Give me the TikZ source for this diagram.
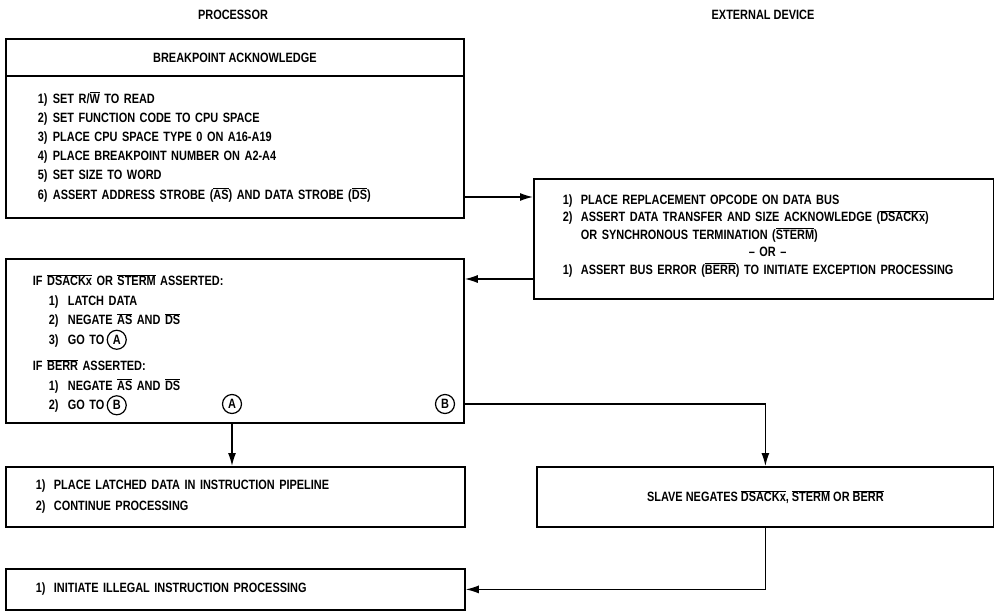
\documentclass[tikz,border=0pt]{standalone}
\usepackage{fontspec}
\setmainfont{Liberation Sans}[FakeStretch=0.81, UprightFont=* Bold]
\usetikzlibrary{arrows.meta, positioning, calc}

\newcommand{\ovl}[1]{$\overline{\mbox{#1}}$}
\newcommand{\num}[2][15pt]{\makebox[#1][l]{#2}}
\newcommand{\goto}[1]{\tikz[baseline=(g.base)]\node[circle, draw, line width=1.2pt, inner sep=0pt, minimum size=19pt] (g) {#1};}

\begin{document}
\begin{tikzpicture}[x=1pt, y=-1pt,
  font=\fontsize{13.5}{16}\selectfont,
  box/.style={draw, line width=1.8pt, anchor=north west, inner sep=0pt, align=left},
  circ/.style={circle, draw, line width=1.2pt, inner sep=0pt, minimum size=19pt},
  edge/.style={-{Latex[length=13pt, width=8pt]}, line width=1.3pt}
]
\useasboundingbox (0,0) rectangle (994,611);

\node (proc) at (233,15) {PROCESSOR};
\node (ext) at (763,15) {EXTERNAL DEVICE};

\node[box, align=center, minimum width=458pt, minimum height=37pt] (bkpt) at (5,38) {BREAKPOINT ACKNOWLEDGE};
\node[box, text width=394pt, inner xsep=32pt, minimum height=142pt, font=\fontsize{13.5}{19.2}\selectfont] (bksteps) at (5,75) {%
\num{1)}SET R/\ovl{W} TO READ\\
\num{2)}SET FUNCTION CODE TO CPU SPACE\\
\num{3)}PLACE CPU SPACE TYPE 0 ON A16-A19\\
\num{4)}PLACE BREAKPOINT NUMBER ON A2-A4\\
\num{5)}SET SIZE TO WORD\\
\num{6)}ASSERT ADDRESS STROBE (\ovl{AS}) AND DATA STROBE (\ovl{DS})};

\node[box, text width=402pt, inner xsep=29pt, minimum height=120pt, font=\fontsize{13.5}{17.5}\selectfont] (dev) at (533,178) {%
\num[18pt]{1)}PLACE REPLACEMENT OPCODE ON DATA BUS\\
\num[18pt]{2)}ASSERT DATA TRANSFER AND SIZE ACKNOWLEDGE (\ovl{DSACKx})\\
\hspace*{18pt}OR SYNCHRONOUS TERMINATION (\ovl{STERM})\\
\hspace*{186pt}-- OR --\\
\num[18pt]{1)}ASSERT BUS ERROR (\ovl{BERR}) TO INITIATE EXCEPTION PROCESSING\\[-8pt]\mbox{}};

\node[box, text width=404pt, inner xsep=27pt, minimum height=164pt, font=\fontsize{13.5}{19.5}\selectfont] (resp) at (5,258) {%
\mbox{}\\[0pt]
IF \ovl{DSACKx} OR \ovl{STERM} ASSERTED:\\
\hspace*{16pt}\num[19pt]{1)}LATCH DATA\\
\hspace*{16pt}\num[19pt]{2)}NEGATE \ovl{AS} AND \ovl{DS}\\
\hspace*{16pt}\num[19pt]{3)}GO TO\,\goto{A}\\[7pt]
IF \ovl{BERR} ASSERTED:\\
\hspace*{16pt}\num[19pt]{1)}NEGATE \ovl{AS} AND \ovl{DS}\\
\hspace*{16pt}\num[19pt]{2)}GO TO\,\goto{B}};
\node[circ] (ca) at (232,404) {A};
\node[circ] (cb) at (445,404) {B};

\node[box, text width=399pt, inner xsep=30pt, minimum height=60pt, font=\fontsize{13.5}{21}\selectfont] (latched) at (5,466) {%
\num[18pt]{1)}PLACE LATCHED DATA IN INSTRUCTION PIPELINE\\
\num[18pt]{2)}CONTINUE PROCESSING};
\node[box, align=center, minimum width=457pt, minimum height=60pt] (slave) at (536,466) {SLAVE NEGATES \ovl{DSACKx}, \ovl{STERM} OR \ovl{BERR}};
\node[box, text width=399pt, inner xsep=30pt, minimum height=41pt] (illegal) at (5,568) {%
\num[18pt]{1)}INITIATE ILLEGAL INSTRUCTION PROCESSING};

\draw[edge] (bksteps.east |- 0,197) -- (dev.west |- 0,197);
\draw[edge] (dev.west |- 0,279) -- (resp.east |- 0,279);
\draw[edge] (resp.south -| ca) -- (latched.north -| ca);
\draw[edge] (resp.east |- cb) -| (slave.north);
\draw[edge] (slave.south) |- (illegal.east);
\end{tikzpicture}
\end{document}
